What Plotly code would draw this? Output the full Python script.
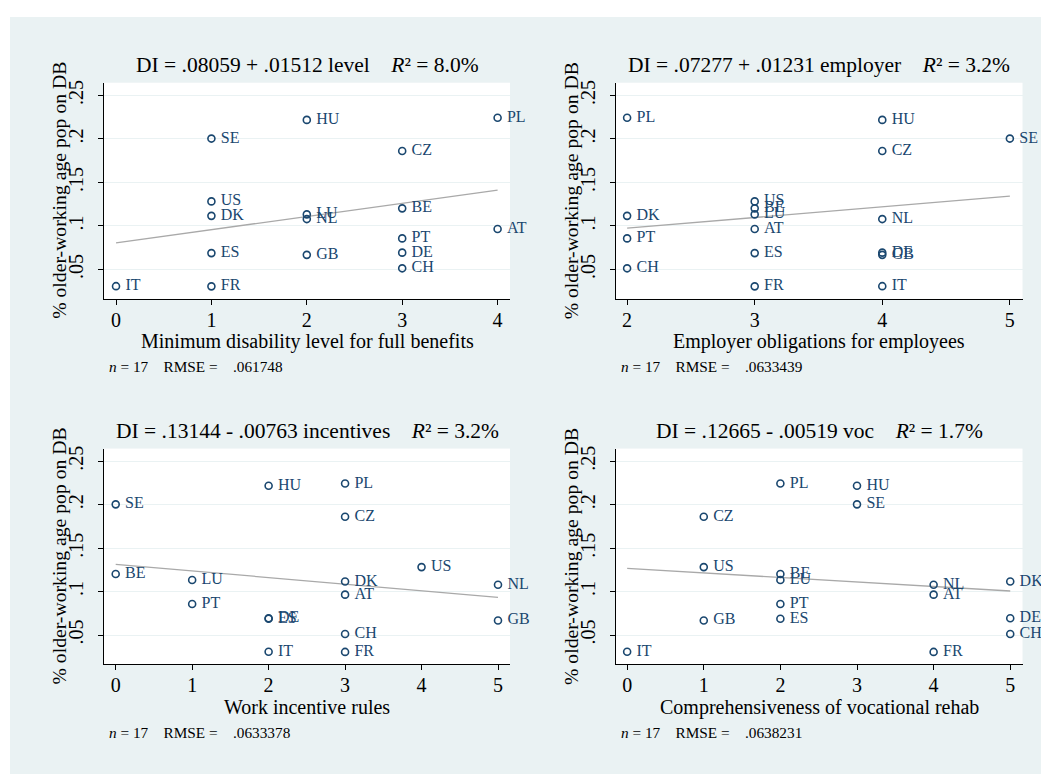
import plotly.graph_objects as go

# ---------------- data ----------------
countries = ["AT", "BE", "CH", "CZ", "DE", "DK", "ES", "FR", "GB",
             "HU", "IT", "LU", "NL", "PL", "PT", "SE", "US"]
di_share = [0.0965, 0.1202, 0.0513, 0.1862, 0.0693, 0.1116, 0.0688, 0.0306, 0.0668,
            0.2219, 0.0308, 0.1133, 0.1079, 0.2244, 0.0857, 0.2004, 0.1282]
level = [4, 3, 3, 3, 3, 1, 1, 1, 2, 2, 0, 2, 2, 4, 3, 1, 1]
employer = [3, 3, 2, 4, 4, 2, 3, 3, 4, 4, 4, 3, 4, 2, 2, 5, 3]
incentives = [3, 0, 3, 3, 2, 3, 2, 3, 5, 2, 2, 1, 5, 3, 1, 0, 4]
voc = [4, 2, 5, 1, 5, 5, 2, 4, 1, 3, 0, 2, 4, 2, 2, 3, 1]

intercepts = [0.08059, 0.07277, 0.13144, 0.12665]
slopes = [0.01512, 0.01231, -0.00763, -0.00519]
titles = ["DI = .08059 + .01512 level", "DI = .07277 + .01231 employer",
          "DI = .13144 - .00763 incentives", "DI = .12665 - .00519 voc"]
r2_labels = ["8.0%", "3.2%", "3.2%", "1.7%"]
x_titles = ["Minimum disability level for full benefits", "Employer obligations for employees",
            "Work incentive rules", "Comprehensiveness of vocational rehab"]
rmse_labels = [".061748", ".0633439", ".0633378", ".0638231"]
n_obs = 17
y_title = "% older-working age pop on DB"
y_tickvals = [0.05, 0.10, 0.15, 0.20, 0.25]
y_ticktext = [".05", ".1", ".15", ".2", ".25"]
x_series = [level, employer, incentives, voc]

# ---------------- layout geometry ----------------
OFF = 8                      # page body margin
W, H = 1049 - OFF, 774 - OFF
BG = "#EAF2F3"
NAVY = "#1A476F"
FONT = "Liberation Serif"
NB = "\u00a0"

def fx(p):
    return (p - OFF) / W

def fy(p):
    return 1 - (p - OFF) / H

rects = [(104, 80, 510, 297), (615.5, 80, 1022.5, 297),
         (104, 447.3, 510, 664), (615.5, 447.3, 1022.5, 664)]
x_ranges = [[-0.126, 4.13], [1.909, 5.099], [-0.153, 5.157], [-0.152, 5.16]]
y_range = [0.0162, 0.2646]

fig = go.Figure()
annotations = []
label_text = [NB + c for c in countries]

for i in range(4):
    xs = x_series[i]
    ax = "" if i == 0 else str(i + 1)
    xref, yref = "x" + ax, "y" + ax
    yref_lab = "y" + str(i + 5)          # overlay axis that carries the tick labels
    xmin, xmax = min(xs), max(xs)
    fit_x = [xmin, xmax]
    fit_y = [intercepts[i] + slopes[i] * xmin, intercepts[i] + slopes[i] * xmax]
    fig.add_trace(go.Scatter(
        x=fit_x, y=fit_y, mode="lines", line=dict(color="#A9A9A9", width=1.3),
        xaxis=xref, yaxis=yref, hoverinfo="skip", showlegend=False))
    fig.add_trace(go.Scatter(
        x=fit_x, y=fit_y, mode="lines", line=dict(color="rgba(0,0,0,0)", width=0),
        xaxis=xref, yaxis=yref_lab, hoverinfo="skip", showlegend=False))
    fig.add_trace(go.Scatter(
        x=xs, y=di_share, text=label_text, mode="markers+text",
        textposition="middle right", cliponaxis=False,
        textfont=dict(family=FONT, size=16, color=NAVY),
        marker=dict(symbol="circle-open", size=7, color=NAVY, line=dict(width=1.6, color=NAVY)),
        xaxis=xref, yaxis=yref, showlegend=False))

    l, t, r, b = rects[i]
    xa = dict(domain=[fx(l), fx(r)], range=x_ranges[i], anchor=yref,
              tickmode="array", tickvals=list(range(0, 6)), ticklabelstandoff=-2,
              showgrid=False, zeroline=False, showline=True, linecolor="black", linewidth=1,
              ticks="outside", ticklen=5, tickcolor="black", tickwidth=1,
              tickfont=dict(family=FONT, size=20, color="black"))
    ya = dict(domain=[fy(b), fy(t)], range=y_range, anchor=xref,
              tickmode="array", tickvals=y_tickvals, showticklabels=False,
              showgrid=True, gridcolor=BG, gridwidth=1.3, zeroline=False,
              showline=True, linecolor="black", linewidth=1,
              ticks="outside", ticklen=5, tickcolor="black", tickwidth=1)
    ya_lab = dict(domain=[fy(b), fy(t)], range=y_range, anchor=xref, overlaying=yref,
                  side="left", tickmode="array", tickvals=y_tickvals, ticktext=y_ticktext,
                  tickangle=-90, showgrid=False, zeroline=False, showline=False,
                  ticks="outside", ticklen=12, tickcolor="rgba(0,0,0,0)",
                  tickfont=dict(family=FONT, size=20, color="black"))
    fig.update_layout(**{"xaxis" + ax: xa, "yaxis" + ax: ya, "yaxis" + str(i + 5): ya_lab})

    cx = (l + r) / 2
    cy = (t + b) / 2
    annotations.append(dict(
        text=titles[i] + NB * 4 + "<i>R</i>² = " + r2_labels[i],
        x=fx(cx), y=fy(t - 18), xref="paper", yref="paper", showarrow=False,
        xanchor="center", yanchor="middle", font=dict(family=FONT, size=21.5, color="black")))
    annotations.append(dict(
        text=x_titles[i], x=fx(cx), y=fy(b + 43), xref="paper", yref="paper", showarrow=False,
        xanchor="center", yanchor="middle", font=dict(family=FONT, size=20, color="black")))
    annotations.append(dict(
        text=y_title, x=fx(l - 45), y=fy(cy), xref="paper", yref="paper", showarrow=False,
        textangle=-90, xanchor="center", yanchor="middle",
        font=dict(family=FONT, size=19.7, color="black")))
    annotations.append(dict(
        text="<i>n</i> = " + str(n_obs) + NB * 4 + "RMSE = " + NB * 3 + rmse_labels[i],
        x=fx(l + 3), y=fy(b + 68), xref="paper", yref="paper", showarrow=False,
        xanchor="left", yanchor="middle", font=dict(family=FONT, size=15.3, color="black")))

shapes = [
    dict(type="rect", xref="paper", yref="paper", x0=-0.01, x1=1.01, y0=fy(14), y1=1.01,
         fillcolor="white", line=dict(width=0), layer="below"),
    dict(type="rect", xref="paper", yref="paper", x0=-0.01, x1=fx(10), y0=-0.01, y1=1.01,
         fillcolor="white", line=dict(width=0), layer="below"),
]

fig.update_layout(
    width=W, height=H, margin=dict(l=0, r=0, t=0, b=0),
    paper_bgcolor=BG, plot_bgcolor="white",
    annotations=annotations, shapes=shapes, showlegend=False,
    font=dict(family=FONT, color="black"))

fig.write_html("out.html", config={"displayModeBar": False})
